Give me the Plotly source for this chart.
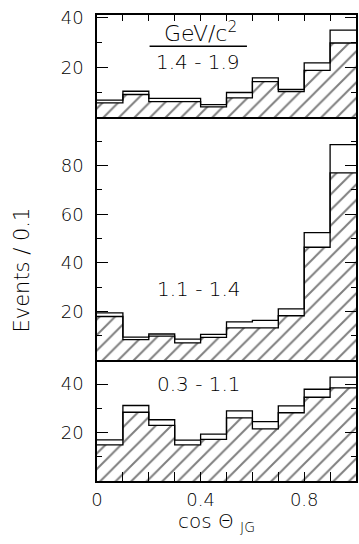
import plotly.graph_objects as go

# cos(theta_JG) bins, width 0.1
bin_lo = [0.0, 0.1, 0.2, 0.3, 0.4, 0.5, 0.6, 0.7, 0.8, 0.9]
bin_hi = 1.0

# 1.4 - 1.9 GeV/c^2
top_total = [6.8, 10.4, 7.5, 7.5, 5.0, 9.9, 15.8, 11.2, 21.9, 35.1]
top_signal = [5.7, 9.1, 6.2, 6.2, 4.1, 7.7, 14.3, 10.3, 18.8, 29.9]

# 1.1 - 1.4 GeV/c^2
mid_total = [19.4, 9.4, 10.7, 8.6, 10.5, 15.7, 16.3, 21.0, 52.4, 88.6]
mid_signal = [17.9, 8.4, 9.8, 7.0, 9.3, 13.2, 13.2, 18.2, 46.4, 77.0]

# 0.3 - 1.1 GeV/c^2
bot_total = [17.0, 31.2, 25.3, 16.9, 19.4, 29.0, 24.5, 31.0, 37.9, 42.9]
bot_signal = [14.9, 28.4, 23.0, 14.9, 17.2, 26.1, 21.5, 28.2, 34.6, 38.5]

x_ticks = [0.0, 0.1, 0.2, 0.3, 0.4, 0.5, 0.6, 0.7, 0.8, 0.9, 1.0]
x_ticktext = ["0", "", "", "", "0.4", "", "", "", "0.8", "", ""]

FONT = "DejaVu Sans"
WEIGHT = 200
INK = "black"

fig = go.Figure()


def add_panel(total, signal, xa, ya):
    edges = bin_lo + [bin_hi]
    # hatched (lower) histogram
    fig.add_trace(go.Scatter(
        x=edges, y=signal + [signal[-1]], xaxis=xa, yaxis=ya,
        mode="lines", line=dict(shape="hv", color=INK, width=1.3),
        fill="tozeroy", fillcolor="white",
        fillpattern=dict(shape="/", size=11, solidity=0.18,
                         fgcolor=INK, bgcolor="white"),
        hoverinfo="skip", showlegend=False,
    ))
    # open (total) histogram
    fig.add_trace(go.Scatter(
        x=edges, y=total + [total[-1]], xaxis=xa, yaxis=ya,
        mode="lines", line=dict(shape="hv", color=INK, width=1.3),
        hoverinfo="skip", showlegend=False,
    ))


add_panel(bot_total, bot_signal, "x", "y")
add_panel(mid_total, mid_signal, "x2", "y2")
add_panel(top_total, top_signal, "x3", "y3")

tickfont = dict(family=FONT, size=18, color=INK, weight=WEIGHT)

yax_common = dict(
    showline=True, linecolor=INK, linewidth=1.5, mirror="ticks",
    ticks="inside", ticklen=11, tickwidth=1.2, tickcolor=INK,
    showgrid=False, zeroline=False, tickfont=tickfont,
    ticklabelstandoff=8,
    minor=dict(ticks="inside", ticklen=5, tickwidth=1.2, tickcolor=INK, dtick=10),
)
xax_common = dict(
    range=[0, 1], showline=True, linecolor=INK, linewidth=1.5, mirror=True,
    showgrid=False, zeroline=False,
)

fig.update_layout(
    width=359, height=544,
    margin=dict(l=97, r=1, t=15, b=63),
    paper_bgcolor="white", plot_bgcolor="white",
    xaxis=dict(**xax_common, anchor="y", ticks="inside", ticklen=9,
               tickwidth=1.2, tickcolor=INK, tickvals=x_ticks,
               ticktext=x_ticktext, tickfont=tickfont, ticklabelstandoff=2),
    xaxis2=dict(**xax_common, anchor="y2", showticklabels=False),
    xaxis3=dict(**xax_common, anchor="y3", side="top", ticks="inside",
                ticklen=6, tickwidth=1.2, tickcolor=INK, tickvals=x_ticks,
                showticklabels=False),
    yaxis=dict(**yax_common, domain=[0.0, 0.2597], range=[0, 50],
               tickvals=[20, 40]),
    yaxis2=dict(**yax_common, domain=[0.2597, 0.7811], range=[0, 100],
                tickvals=[20, 40, 60, 80]),
    yaxis3=dict(**yax_common, domain=[0.7811, 1.0], range=[0, 41.2],
                tickvals=[20, 40]),
)

labfont = dict(family=FONT, size=20, color=INK, weight=WEIGHT)
fig.add_annotation(x=0.40, y=34.5, xref="x3", yref="y3", text="GeV/c<sup>2</sup>",
                   showarrow=False, font=dict(family=FONT, size=22, color=INK, weight=WEIGHT))
fig.add_shape(type="line", xref="x3", yref="y3", x0=0.203, x1=0.579, y0=28.6, y1=28.6,
              line=dict(color=INK, width=1.5))
fig.add_annotation(x=0.39, y=22.1, xref="x3", yref="y3", text="1.4 - 1.9",
                   showarrow=False, font=labfont)
fig.add_annotation(x=0.395, y=29.2, xref="x2", yref="y2", text="1.1 - 1.4",
                   showarrow=False, font=labfont)
fig.add_annotation(x=0.395, y=40.1, xref="x", yref="y", text="0.3 - 1.1",
                   showarrow=False, font=labfont)

# axis titles
fig.add_annotation(x=-0.345, y=0.453, xref="paper", yref="paper",
                   text="Events / 0.1", textangle=-90, showarrow=False,
                   font=dict(family=FONT, size=21, color=INK, weight=WEIGHT))
fig.add_annotation(x=0.46, y=-0.055, xref="paper", yref="paper", yanchor="top",
                   text="cos \u0398 <sub>JG</sub>", showarrow=False,
                   font=dict(family=FONT, size=20, color=INK, weight=WEIGHT))

fig.write_html("out.html")
